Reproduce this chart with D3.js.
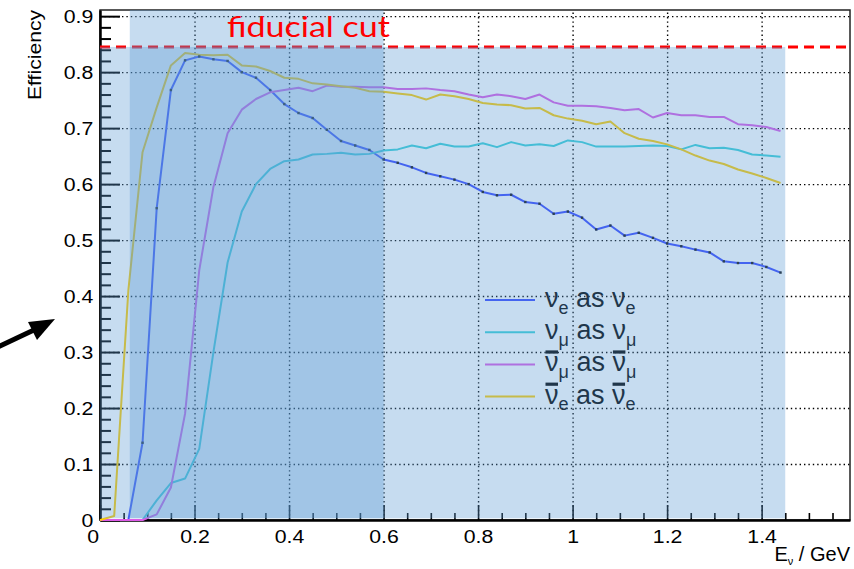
<!DOCTYPE html>
<html>
<head>
<meta charset="utf-8">
<script src="https://cdn.jsdelivr.net/npm/d3@7"></script>
<style>
  body { margin: 0; background: #fff; }
  svg { display: block; font-family: "Liberation Sans", Arial, sans-serif; }
</style>
</head>
<body>
<svg id="chart" width="854" height="569"></svg>
<script>
// energy points (GeV) and selection efficiency per channel
var energies = [0, 0.03, 0.06, 0.09, 0.12, 0.15, 0.18, 0.21, 0.24, 0.27,
  0.30, 0.33, 0.36, 0.39, 0.42, 0.45, 0.48, 0.51, 0.54, 0.57,
  0.60, 0.63, 0.66, 0.69, 0.72, 0.75, 0.78, 0.81, 0.84, 0.87,
  0.90, 0.93, 0.96, 0.99, 1.02, 1.05, 1.08, 1.11, 1.14, 1.17,
  1.20, 1.23, 1.26, 1.29, 1.32, 1.35, 1.38, 1.41, 1.44];

var effNue = [0, 0, 0, 0.138, 0.557, 0.768, 0.821, 0.828, 0.823, 0.820,
  0.800, 0.790, 0.768, 0.743, 0.727, 0.718, 0.697, 0.677, 0.669, 0.661,
  0.644, 0.638, 0.630, 0.620, 0.614, 0.608, 0.600, 0.586, 0.580, 0.581,
  0.568, 0.565, 0.547, 0.551, 0.540, 0.519, 0.526, 0.508, 0.513, 0.504,
  0.494, 0.489, 0.483, 0.478, 0.462, 0.459, 0.459, 0.452, 0.442];

var effNumu = [0, 0, 0, 0, 0.035, 0.066, 0.074, 0.127, 0.300, 0.460,
  0.551, 0.600, 0.627, 0.641, 0.644, 0.653, 0.654, 0.656, 0.653, 0.654,
  0.660, 0.662, 0.669, 0.664, 0.672, 0.667, 0.667, 0.673, 0.666, 0.675,
  0.669, 0.671, 0.668, 0.678, 0.675, 0.667, 0.667, 0.667, 0.668, 0.669,
  0.668, 0.662, 0.670, 0.664, 0.665, 0.661, 0.653, 0.651, 0.649];

var effAnumu = [0, 0, 0, 0, 0.010, 0.058, 0.190, 0.446, 0.595, 0.691,
  0.733, 0.752, 0.764, 0.768, 0.772, 0.766, 0.776, 0.774, 0.774, 0.773,
  0.773, 0.770, 0.770, 0.771, 0.768, 0.766, 0.760, 0.755, 0.760, 0.757,
  0.752, 0.760, 0.746, 0.740, 0.740, 0.739, 0.736, 0.732, 0.734, 0.719,
  0.727, 0.723, 0.723, 0.720, 0.720, 0.707, 0.705, 0.702, 0.695];

var effAnue = [0, 0.007, 0.410, 0.657, 0.737, 0.812, 0.834, 0.831, 0.830, 0.831,
  0.812, 0.810, 0.802, 0.790, 0.788, 0.780, 0.778, 0.775, 0.772, 0.766,
  0.765, 0.762, 0.759, 0.751, 0.760, 0.757, 0.752, 0.745, 0.742, 0.741,
  0.735, 0.736, 0.723, 0.717, 0.713, 0.707, 0.712, 0.691, 0.681, 0.677,
  0.671, 0.662, 0.651, 0.642, 0.636, 0.626, 0.619, 0.611, 0.602];

var seriesColors = ["#3848ff", "#3ad0d8", "#dc5ae6", "#ffcc00"];
var legendFlavour = ["e", "\u03bc", "\u03bc", "e"];
var legendAnti = [false, false, true, true];

var yTicks = [0, 0.1, 0.2, 0.3, 0.4, 0.5, 0.6, 0.7, 0.8, 0.9];
var yTickLabels = ["0", "0.1", "0.2", "0.3", "0.4", "0.5", "0.6", "0.7", "0.8", "0.9"];
var xTicks = [0, 0.2, 0.4, 0.6, 0.8, 1.0, 1.2, 1.4];
var xTickLabels = ["0", "0.2", "0.4", "0.6", "0.8", "1", "1.2", "1.4"];

var fiducialCut = 0.845;
// highlighted regions (energy range, efficiency top)
var bandFrom = [0, 0.063];
var bandTo = [1.45, 0.6];
var bandTop = [0.845, 0.911];

var svg = d3.select("#chart");

var x = d3.scaleLinear().domain([0, 1.587]).range([100, 850]);
var y = d3.scaleLinear().domain([0, 0.911]).range([520, 10]);

// grid
svg.append("g")
  .attr("transform", "translate(0,520)")
  .call(d3.axisBottom(x).tickValues(xTicks.slice(1)).tickSizeInner(-510).tickSizeOuter(0).tickFormat(""))
  .call(function(g) { g.select(".domain").remove(); })
  .selectAll("line")
  .attr("stroke", "#000")
  .attr("stroke-width", 1.4)
  .attr("stroke-dasharray", "1.4,3");

svg.append("g")
  .attr("transform", "translate(100,0)")
  .call(d3.axisLeft(y).tickValues(yTicks.slice(1)).tickSizeInner(-750).tickSizeOuter(0).tickFormat(""))
  .call(function(g) { g.select(".domain").remove(); })
  .selectAll("line")
  .attr("stroke", "#000")
  .attr("stroke-width", 1.4)
  .attr("stroke-dasharray", "1.4,3");

// frame
svg.append("rect")
  .attr("x", x(0)).attr("y", y(0.911))
  .attr("width", x(1.587) - x(0)).attr("height", y(0) - y(0.911))
  .attr("fill", "none")
  .attr("stroke", "#222")
  .attr("stroke-width", 1.5);

// axes
var yAxis = svg.append("g")
  .attr("transform", "translate(100,0)")
  .call(d3.axisLeft(y).tickValues(yTicks).tickSizeInner(-20).tickSizeOuter(0).tickPadding(6)
    .tickFormat(function(d, i) { return yTickLabels[i]; }));
yAxis.selectAll(".tick line").attr("stroke", "#000").attr("stroke-width", 2);
yAxis.select(".domain").attr("stroke", "#000").attr("stroke-width", 2.5);
yAxis.selectAll("text")
  .attr("fill", "#000")
  .style("font-size", "19px")
  .attr("transform", "scale(1.12,1)");

svg.append("g")
  .attr("transform", "translate(100,0)")
  .call(d3.axisLeft(y).tickValues(y.ticks(46).filter(function(v) { return yTicks.indexOf(+v.toFixed(2)) < 0; }))
    .tickSizeInner(-11).tickSizeOuter(0).tickFormat(""))
  .call(function(g) { g.select(".domain").remove(); })
  .selectAll("line").attr("stroke", "#000").attr("stroke-width", 2);

var xAxis = svg.append("g")
  .attr("transform", "translate(0,520)")
  .call(d3.axisBottom(x).tickValues(xTicks).tickSizeInner(-15).tickSizeOuter(0).tickPadding(10)
    .tickFormat(function(d, i) { return xTickLabels[i]; }));
xAxis.selectAll(".tick line").attr("stroke", "#000").attr("stroke-width", 1.6);
xAxis.select(".domain").attr("stroke", "#000").attr("stroke-width", 2.5);
xAxis.selectAll("text")
  .attr("fill", "#000")
  .style("font-size", "19px")
  .attr("transform", "scale(1.12,1)");
xAxis.select(".tick text").attr("dx", "-0.35em");

svg.append("g")
  .attr("transform", "translate(0,520)")
  .call(d3.axisBottom(x).tickValues(x.ticks(32).filter(function(v) { return Math.round(v * 100) % 20 !== 0; }))
    .tickSizeInner(-7).tickSizeOuter(0).tickFormat(""))
  .call(function(g) { g.select(".domain").remove(); })
  .selectAll("line").attr("stroke", "#000").attr("stroke-width", 1.6);

// axis titles
svg.append("text")
  .attr("transform", "translate(41,10) rotate(-90)")
  .attr("text-anchor", "end")
  .style("font-size", "18px")
  .attr("textLength", 90)
  .attr("lengthAdjust", "spacingAndGlyphs")
  .text("Efficiency");

var xTitle = svg.append("text")
  .attr("x", 850)
  .attr("y", 561)
  .attr("text-anchor", "end")
  .style("font-size", "20px")
  .style("white-space", "pre");
xTitle.append("tspan").text("E");
xTitle.append("tspan").attr("dy", 4).style("font-size", "11px").text("\u03bd");
xTitle.append("tspan").attr("dy", -4).text(" / GeV");

// curves
var line = d3.line()
  .x(function(d) { return x(d[0]); })
  .y(function(d) { return y(d[1]); });

var allSeries = [effNue, effNumu, effAnumu, effAnue];
allSeries.forEach(function(vals, k) {
  var pts = energies.map(function(e, i) { return [e, vals[i]]; });
  svg.append("path")
    .datum(pts)
    .attr("fill", "none")
    .attr("stroke", seriesColors[k])
    .attr("stroke-width", 2)
    .attr("stroke-linejoin", "round")
    .attr("d", line);
});

// markers on the nue curve
svg.selectAll("rect.marker")
  .data(energies.map(function(e, i) { return [e, effNue[i]]; }).filter(function(d) { return d[1] > 0; }))
  .enter()
  .append("rect")
  .attr("class", "marker")
  .attr("x", function(d) { return x(d[0]) - 1.2; })
  .attr("y", function(d) { return y(d[1]) - 1.2; })
  .attr("width", 2.4)
  .attr("height", 2.4)
  .attr("fill", "#111");

// legend
var legend = svg.append("g");
[0, 1, 2, 3].forEach(function(k) {
  var base = 307 + k * 32.2;
  legend.append("line")
    .attr("x1", 485).attr("x2", 535)
    .attr("y1", base - 7).attr("y2", base - 7)
    .attr("stroke", seriesColors[k])
    .attr("stroke-width", 2);
  var t = legend.append("text")
    .attr("x", 545)
    .attr("y", base)
    .style("font-size", "27px")
    .style("white-space", "pre")
    .attr("fill", "#000");
  t.append("tspan").text("\u03bd");
  t.append("tspan").attr("dy", 6.5).style("font-size", "18px").text(legendFlavour[k]);
  t.append("tspan").attr("dy", -6.5).text(" as ");
  t.append("tspan").text("\u03bd");
  t.append("tspan").attr("dy", 6.5).style("font-size", "18px").text(legendFlavour[k]);
  if (legendAnti[k]) {
    [0, 6].forEach(function(ci) {
      var box = t.node().getExtentOfChar(ci);
      legend.append("rect")
        .attr("x", box.x + 0.5)
        .attr("y", base - 21)
        .attr("width", box.width - 1)
        .attr("height", 3.2)
        .attr("fill", "#000");
    });
  }
});

// fiducial cut line
svg.append("line")
  .attr("x1", x(0)).attr("x2", x(1.587))
  .attr("y1", y(fiducialCut)).attr("y2", y(fiducialCut))
  .attr("stroke", "#ff0000")
  .attr("stroke-width", 3)
  .attr("stroke-dasharray", "10,6");

// translucent highlight boxes on top
[0, 1].forEach(function(k) {
  svg.append("rect")
    .attr("x", x(bandFrom[k]))
    .attr("y", y(bandTop[k]))
    .attr("width", x(bandTo[k]) - x(bandFrom[k]))
    .attr("height", y(0.003) - y(bandTop[k]))
    .attr("fill", "rgb(91,155,213)")
    .attr("fill-opacity", 0.35);
});

svg.append("text")
  .attr("x", 227)
  .attr("y", 37)
  .attr("fill", "#ff0000")
  .style("font-family", "Lato, 'Open Sans', sans-serif")
  .style("font-size", "28px")
  .attr("textLength", 163)
  .attr("lengthAdjust", "spacingAndGlyphs")
  .text("fiducial cut");

// pointer arrow at the left
svg.append("line")
  .attr("x1", -2).attr("y1", 347)
  .attr("x2", 36).attr("y2", 329)
  .attr("stroke", "#000")
  .attr("stroke-width", 5);
svg.append("path")
  .attr("d", "M55,319 L28,322 L37,340 Z")
  .attr("fill", "#000");
</script>
</body>
</html>
